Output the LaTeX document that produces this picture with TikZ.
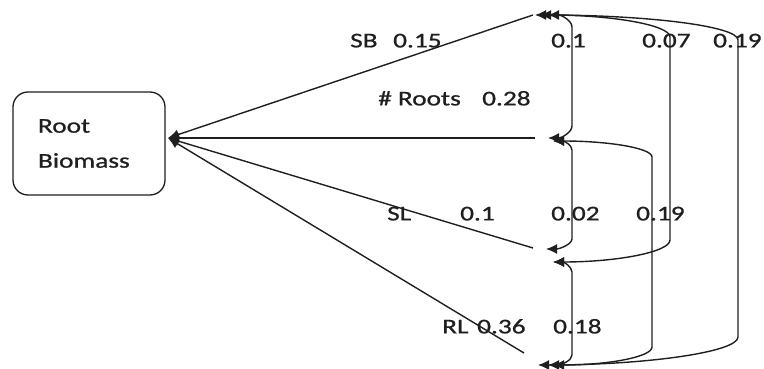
\documentclass[tikz,border=0pt]{standalone}
\usepackage{fontspec}
\setmainfont{Carlito}[FakeStretch=1.3,FakeBold=0.9]
\usetikzlibrary{arrows.meta}
\begin{document}
\begin{tikzpicture}[x=1pt,y=-1pt,
  every node/.style={font=\fontsize{21}{35}\selectfont, text=black!88},
  lbl/.style={anchor=mid west, inner sep=0pt},
  path/.style={line width=1.4pt, draw=black!88, -{Latex[length=11pt,width=10pt]}},
  corr/.style={line width=1.4pt, draw=black!88, {Latex[length=11pt,width=10pt]}-{Latex[length=11pt,width=10pt]}},
  box/.style={draw=black!88, line width=1.3pt, rounded corners=15pt, minimum height=103pt,
    text width=102pt, inner xsep=25pt, align=left}]
\useasboundingbox (0,0) rectangle (764,369);

% Root Biomass box
\node[box] (RB) at (89,143.5) {Root\\Biomass};
\coordinate (RT) at (168,138);

% predictor ends
\coordinate (SB) at (533,15);
\coordinate (NR) at (535,138);
\coordinate (SL) at (533,248);
\coordinate (RL) at (524,353);

% direct paths
\draw[path] (SB) -- (RT);
\draw[path] (NR) -- (RT);
\draw[path] (SL) -- (RT);
\draw[path] (RL) -- (RT);

% correlation ends
\coordinate (SBa) at (548,15);
\coordinate (SBb) at (540,15);
\coordinate (SBc) at (535,15);
\coordinate (NRa) at (548,138);
\coordinate (NRb) at (553,141);
\coordinate (SLa) at (546,249);
\coordinate (SLb) at (553,262);
\coordinate (RLa) at (548,365);
\coordinate (RLb) at (553,365);
\coordinate (RLc) at (538,365);

% SB - #Roots (0.1)
\draw[corr] (SBa) .. controls +(14,0) and +(0,-6) .. (572,27) -- (572,126)
  .. controls +(0,6) and +(14,0) .. (NRa);
% #Roots - SL (0.02)
\draw[corr] (NRb) .. controls +(11,0) and +(0,-5) .. (572,150) -- (572,239)
  .. controls +(0,5) and +(14,0) .. (SLa);
% SB - SL (0.07)
\draw[corr] (SBb) .. controls +(72,0) and +(0,-12) .. (670,37) -- (670,240)
  .. controls +(0,12) and +(64,0) .. (SLb);
% #Roots - RL (0.19)
\draw[corr] (NRb) .. controls +(55,0) and +(0,-9) .. (652,157) -- (652,347)
  .. controls +(0,10) and +(55,0) .. (RLb);
% SL - RL (0.18)
\draw[corr] (SLb) .. controls +(11,0) and +(0,-5) .. (572,272) -- (572,355)
  .. controls +(0,5) and +(14,0) .. (RLa);
% SB - RL (0.19)
\draw[corr] (SBc) .. controls +(112,0) and +(0,-14) .. (738,40) -- (738,337)
  .. controls +(0,15) and +(109,0) .. (RLc);

% labels
\node[lbl] (t1) at (350,45) {SB};
\node[lbl] (t2) at (393,45) {0.15};
\node[lbl] (t3) at (551,45) {0.1};
\node[lbl] (t4) at (642,45) {0.07};
\node[lbl] (t5) at (713,45) {0.19};
\node[lbl] (t6) at (378,103) {\# Roots};
\node[lbl] (t7) at (482,103) {0.28};
\node[lbl] (t8) at (387,218) {SL};
\node[lbl] (t9) at (460,218) {0.1};
\node[lbl] (t10) at (551,218) {0.02};
\node[lbl] (t11) at (636,218) {0.19};
\node[lbl] (t12) at (442,331) {RL};
\node[lbl] (t13) at (477,331) {0.36};
\node[lbl] (t14) at (553,331) {0.18};
\end{tikzpicture}
\end{document}
